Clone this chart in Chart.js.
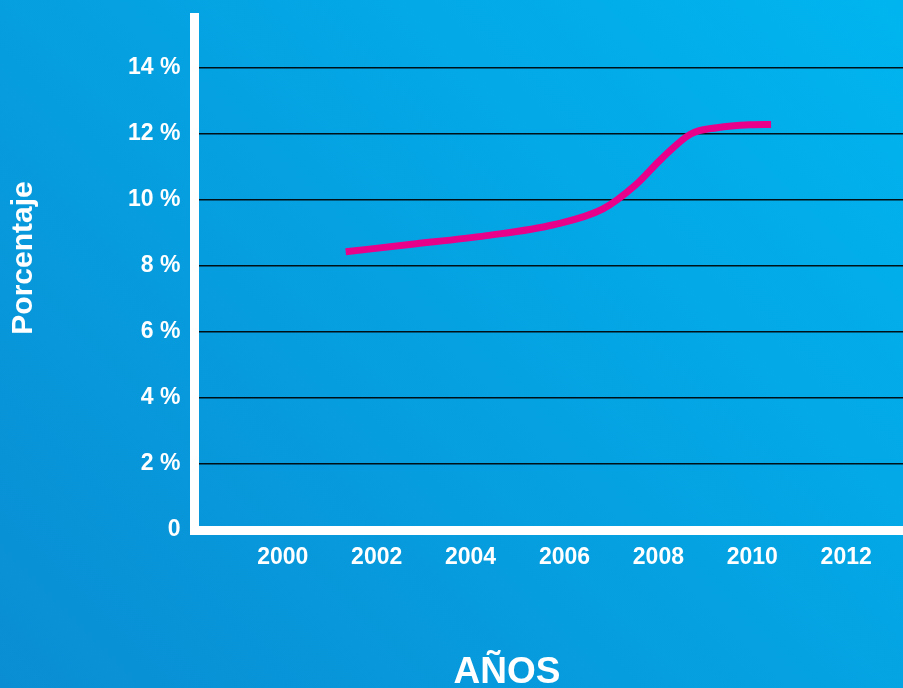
<!DOCTYPE html>
<html>
<head>
<meta charset="utf-8">
<script src="https://cdn.jsdelivr.net/npm/chart.js@4"></script>
<style>
  html, body { margin: 0; padding: 0; background: #0a8fd4; }
  #wrap { width: 903px; height: 688px; }
</style>
</head>
<body>
<div id="wrap"><canvas id="c" width="903" height="688"></canvas></div>
<script>
// Data
const years  = [2001.34, 2002.70, 2004.34, 2005.77, 2006.82, 2007.51, 2008.06, 2008.69, 2009.25, 2009.94, 2010.40];
const values = [8.43, 8.65, 8.92, 9.25, 9.73, 10.45, 11.24, 12.00, 12.19, 12.28, 12.29];
const xTickYears = [2000, 2002, 2004, 2006, 2008, 2010, 2012];
const yTickValues = [0, 2, 4, 6, 8, 10, 12, 14];
const yTitle = 'Porcentaje';
const xTitle = 'AÑOS';

const FONT = '"Liberation Sans", Arial, sans-serif';

const points = years.map((y, i) => ({ x: y, y: values[i] }));

const bgPlugin = {
  id: 'bg',
  beforeDraw(chart) {
    const { ctx, width, height } = chart;
    ctx.save();
    const g = ctx.createLinearGradient(0, height, 795.5, -107.5);
    g.addColorStop(0, '#0a8dd3');
    g.addColorStop(1, '#00b5ef');
    ctx.fillStyle = g;
    ctx.fillRect(0, 0, width, height);
    ctx.restore();
  }
};

const titlePlugin = {
  id: 'titles',
  afterDraw(chart) {
    const { ctx } = chart;
    ctx.save();
    ctx.fillStyle = '#ffffff';
    ctx.font = 'bold 30px ' + FONT;
    ctx.textAlign = 'center';
    ctx.textBaseline = 'middle';
    ctx.translate(24, 258);
    ctx.rotate(-Math.PI / 2);
    ctx.fillText(yTitle, 0, 0);
    ctx.restore();

    ctx.save();
    ctx.fillStyle = '#ffffff';
    ctx.font = 'bold 37px ' + FONT;
    ctx.textAlign = 'center';
    ctx.textBaseline = 'alphabetic';
    ctx.fillText(xTitle, 507, 683);
    ctx.restore();
  }
};

new Chart(document.getElementById('c'), {
  type: 'line',
  data: {
    datasets: [{
      data: points,
      borderColor: '#e8008b',
      borderWidth: 7,
      borderCapStyle: 'butt',
      pointRadius: 0,
      pointHoverRadius: 0,
      fill: false,
      cubicInterpolationMode: 'monotone'
    }]
  },
  options: {
    responsive: false,
    animation: false,
    events: [],
    layout: { padding: { top: 17.5, left: 0, right: 0, bottom: 0 } },
    plugins: { legend: { display: false }, tooltip: { enabled: false } },
    scales: {
      x: {
        type: 'linear',
        min: 1998.12,
        max: 2013.21,
        afterBuildTicks(scale) { scale.ticks = xTickYears.map(v => ({ value: v })); },
        afterFit(scale) { scale.height = 158; scale.paddingLeft = 0; scale.paddingRight = 0; },
        grid: { display: false, drawTicks: false },
        border: { display: true, color: '#ffffff', width: 9 },
        ticks: {
          color: '#ffffff',
          font: { family: FONT, size: 23, weight: 'bold' },
          padding: 14,
          maxRotation: 0,
          autoSkip: false,
          callback: v => String(v)
        }
      },
      y: {
        type: 'linear',
        min: 0,
        max: 15.53,
        afterBuildTicks(scale) { scale.ticks = yTickValues.map(v => ({ value: v })); },
        afterFit(scale) { scale.width = 194.5; scale.paddingTop = 0; scale.paddingBottom = 0; },
        grid: { color: 'rgba(0,0,0,0.9)', lineWidth: 1.4, drawTicks: false },
        border: { display: true, color: '#ffffff', width: 9 },
        ticks: {
          color: '#ffffff',
          font: { family: FONT, size: 23, weight: 'bold' },
          padding: 14,
          autoSkip: false,
          callback: v => (v === 0 ? '0' : v + ' %')
        }
      }
    }
  },
  plugins: [bgPlugin, titlePlugin]
});
</script>
</body>
</html>
